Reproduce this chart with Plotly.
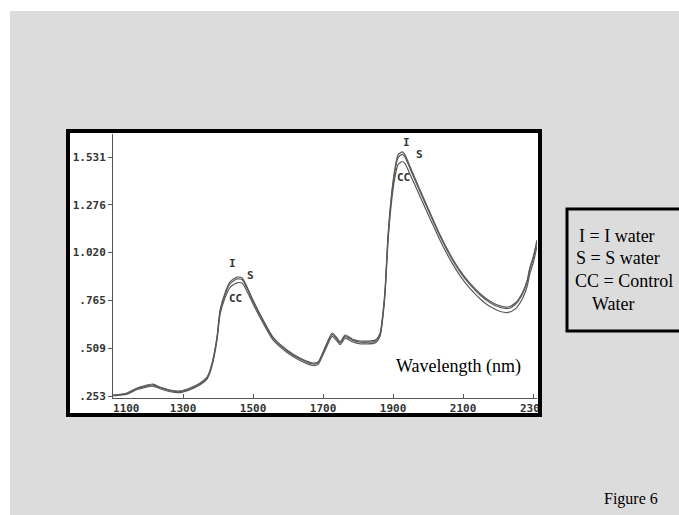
import plotly.graph_objects as go

# wavelength (nm) and absorbance
wavelength = [1100, 1140, 1169, 1214, 1234, 1263, 1291, 1320, 1349, 1369,
              1383, 1397, 1406, 1420, 1434, 1454, 1469, 1483, 1500, 1529,
              1557, 1597, 1634, 1671, 1686, 1706, 1726, 1740, 1749, 1763,
              1783, 1806, 1849, 1863, 1871, 1877, 1886, 1897, 1906, 1914,
              1926, 1934, 1949, 1977, 2006, 2034, 2063, 2091, 2120, 2149,
              2177, 2206, 2229, 2249, 2269, 2283, 2291, 2300, 2311]

i_water = [0.258, 0.269, 0.296, 0.317, 0.301, 0.285, 0.280, 0.296, 0.323, 0.355,
           0.429, 0.568, 0.713, 0.804, 0.863, 0.889, 0.884, 0.836, 0.766, 0.659,
           0.568, 0.499, 0.456, 0.429, 0.435, 0.515, 0.590, 0.563, 0.542, 0.579,
           0.558, 0.547, 0.552, 0.590, 0.697, 0.820, 1.125, 1.355, 1.477, 1.542,
           1.558, 1.542, 1.477, 1.355, 1.232, 1.115, 1.010, 0.925, 0.855, 0.800,
           0.760, 0.735, 0.729, 0.750, 0.804, 0.873, 0.943, 0.996, 1.087]

s_water = [0.256, 0.266, 0.292, 0.312, 0.297, 0.281, 0.276, 0.292, 0.319, 0.351,
           0.424, 0.562, 0.706, 0.795, 0.853, 0.879, 0.875, 0.828, 0.759, 0.653,
           0.562, 0.494, 0.451, 0.424, 0.430, 0.509, 0.583, 0.556, 0.536, 0.572,
           0.552, 0.541, 0.546, 0.584, 0.690, 0.812, 1.115, 1.343, 1.464, 1.528,
           1.545, 1.530, 1.466, 1.345, 1.223, 1.107, 1.002, 0.917, 0.847, 0.792,
           0.752, 0.726, 0.721, 0.742, 0.796, 0.865, 0.935, 0.988, 1.079]

control_water = [0.254, 0.263, 0.288, 0.306, 0.292, 0.276, 0.271, 0.287, 0.313, 0.345,
                 0.416, 0.551, 0.692, 0.778, 0.833, 0.858, 0.856, 0.812, 0.745, 0.642,
                 0.553, 0.486, 0.443, 0.416, 0.422, 0.499, 0.572, 0.546, 0.527, 0.562,
                 0.543, 0.532, 0.537, 0.574, 0.678, 0.797, 1.094, 1.316, 1.430, 1.490,
                 1.507, 1.495, 1.436, 1.320, 1.200, 1.086, 0.982, 0.897, 0.827, 0.772,
                 0.731, 0.705, 0.700, 0.719, 0.772, 0.840, 0.910, 0.963, 1.054]

x_ticks = [1100, 1300, 1500, 1700, 1900, 2100, 2300]
x_ticktext = ["\u00a0\u00a0\u00a0\u00a01100", "1300", "1500", "1700", "1900", "2100", "2300"]
y_ticks = [0.253, 0.509, 0.765, 1.020, 1.276, 1.531]
y_ticktext = [".253", ".509", ".765", "1.020", "1.276", "1.531"]

# curve labels written on the printout
curve_labels = [("I", 1440, 0.964), ("S", 1494, 0.900), ("CC", 1449, 0.772),
                ("I", 1937, 1.611), ("S", 1974, 1.547), ("CC", 1929, 1.419)]

legend_lines = ["I = I water", "S = S water", "CC = Control", "Water"]

W, H = 679, 515
L, R, T, B = 113, 537, 134, 398  # plot area in pixels
GRAY = "#dcdcdc"


def px(x):
    return (x - L) / (R - L)


def py(y):
    return (B - y) / (B - T)


fig = go.Figure()

for name, vals in [("I", i_water), ("S", s_water), ("CC", control_water)]:
    fig.add_trace(go.Scatter(
        x=wavelength, y=vals, name=name, mode="lines",
        line=dict(color="#5a5a5a", width=1.2, shape="spline", smoothing=0.6),
        showlegend=False
    ))

# dot-matrix printer look for the axis numbers
mono = dict(family="DejaVu Sans Mono", size=11, color="#333", weight="bold")

fig.update_layout(
    width=W, height=H,
    margin=dict(l=L, r=W - R, t=T, b=H - B, pad=0),
    paper_bgcolor="white",
    plot_bgcolor="white",
    xaxis=dict(range=[1100, 2311], tickvals=x_ticks, ticktext=x_ticktext,
               ticks="inside", ticklen=4, tickcolor="#555",
               showline=True, linecolor="#555", linewidth=1,
               showgrid=False, zeroline=False, tickfont=mono),
    yaxis=dict(range=[0.2423, 1.654], tickvals=y_ticks, ticktext=y_ticktext,
               ticks="outside", ticklen=4, tickcolor="#555",
               showline=True, linecolor="#555", linewidth=1,
               showgrid=False, zeroline=False, tickfont=mono),
    shapes=[
        # gray page
        dict(type="rect", xref="paper", yref="paper", x0=px(10), x1=px(690),
             y0=py(530), y1=py(11), fillcolor=GRAY, line=dict(width=0), layer="below"),
        # white printout inside frame
        dict(type="rect", xref="paper", yref="paper", x0=px(68), x1=px(540),
             y0=py(415), y1=py(131), fillcolor="white", line=dict(width=0), layer="below"),
        # cover label overflow past the frame
        dict(type="rect", xref="paper", yref="paper", x0=px(541), x1=px(562),
             y0=py(420), y1=py(392), fillcolor=GRAY, line=dict(width=0), layer="above"),
        # black frame
        dict(type="rect", xref="paper", yref="paper", x0=px(68), x1=px(540),
             y0=py(415), y1=py(131), line=dict(color="black", width=4), layer="above"),
        # key box
        dict(type="rect", xref="paper", yref="paper", x0=px(567), x1=px(692),
             y0=py(331), y1=py(209), fillcolor=GRAY,
             line=dict(color="black", width=3), layer="above"),
    ],
)

for txt, x, y in curve_labels:
    fig.add_annotation(x=x, y=y, text=txt, showarrow=False,
                       font=dict(family="DejaVu Sans Mono", size=11, color="#333", weight="bold"))

serif = "Liberation Serif"
fig.add_annotation(xref="paper", yref="paper", x=px(458), y=py(366), text="Wavelength (nm)",
                   xanchor="center", yanchor="middle", showarrow=False,
                   font=dict(family=serif, size=18, color="black"))

legend_x = [577, 574, 573, 590]
legend_y = [236, 258, 281, 304]
for txt, lx, ly in zip(legend_lines, legend_x, legend_y):
    fig.add_annotation(xref="paper", yref="paper", x=px(lx), y=py(ly), text=txt,
                       xanchor="left", yanchor="middle", showarrow=False,
                       font=dict(family=serif, size=18, color="black"))

fig.add_annotation(xref="paper", yref="paper", x=px(631), y=py(499), text="Figure 6",
                   xanchor="center", yanchor="middle", showarrow=False,
                   font=dict(family=serif, size=16, color="black"))

fig.write_html("out.html", config={"displayModeBar": False},
               post_script="document.body.style.margin='0';document.body.style.overflow='hidden';")
